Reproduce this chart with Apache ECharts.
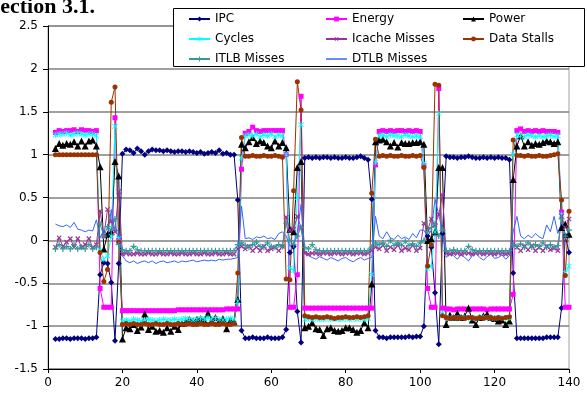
<!DOCTYPE html>
<html>
	<head>
		<meta charset="UTF-8">
		<title>Section 3.1</title>
		<style type="text/css">
			html,body{
				margin: 0;
				padding: 0;
				width: 100%;
				height: 100%;
				background: #fff;
			}
			#main{
				width: 587px;
				height: 397px;
			}
		</style>
	</head>
	<body>
		<div id="main"></div>
		<script src="https://cdn.jsdelivr.net/npm/echarts@6/dist/echarts.min.js"></script>
		<script>
			// x runs 2..140, one sample per unit
			var firstX = 2;
			var seriesNames = ['IPC', 'Energy', 'Power', 'Cycles', 'Icache Misses', 'Data Stalls', 'ITLB Misses', 'DTLB Misses'];
			var xTicks = [0, 20, 40, 60, 80, 100, 120, 140];
			var yTicks = [-1.5, -1, -0.5, 0, 0.5, 1, 1.5, 2, 2.5];

			var ipc = [
				-1.15,-1.15,-1.14,-1.14,-1.15,-1.14,-1.14,-1.14,-1.15,-1.14,-1.14,-1.13,
				-0.40,-0.26,-0.27,-0.49,-1.17,-0.27,
				1.01,1.06,1.05,1.02,1.07,1.04,1.00,1.04,1.06,1.05,1.05,1.04,1.05,1.04,1.03,1.04,1.04,1.03,1.04,1.03,1.02,1.03,1.01,1.02,1.03,1.02,1.05,1.01,1.02,1.00,1.00,
				0.47,-1.05,
				-1.14,-1.14,-1.13,-1.14,-1.14,-1.14,-1.13,-1.14,-1.14,-1.14,-1.13,
				-1.04,-0.14,-0.07,-0.83,-1.19,
				0.96,0.97,0.96,0.97,0.96,0.97,0.97,0.96,0.97,0.96,0.96,0.97,0.96,0.96,0.97,0.98,0.96,0.94,
				0.48,-1.05,
				-1.13,-1.13,-1.14,-1.13,-1.13,-1.13,-1.13,-1.13,-1.12,-1.13,-1.12,-1.12,
				-1.00,0.05,-0.08,-0.61,-1.21,0.08,
				0.98,0.97,0.97,0.96,0.97,0.97,0.98,0.97,0.96,0.96,0.97,0.96,0.97,0.96,0.97,0.96,0.96,0.94,
				-0.38,
				-1.14,-1.14,-1.14,-1.14,-1.14,-1.14,-1.14,-1.14,-1.13,-1.13,-1.13,-1.13,
				-0.79,0.05,-0.14
			];
			var energy = [
				1.26,1.28,1.27,1.28,1.28,1.29,1.27,1.29,1.28,1.28,1.27,1.28,
				-0.56,-0.78,-0.78,-0.78,1.43,0.00,
				-0.82,-0.82,-0.82,-0.82,-0.82,-0.82,-0.82,-0.82,-0.82,-0.82,-0.82,-0.82,-0.82,-0.82,-0.82,-0.81,-0.81,-0.81,-0.81,-0.81,-0.81,-0.81,-0.81,-0.81,-0.81,-0.81,-0.81,-0.81,-0.80,-0.80,-0.80,
				-0.80,0.83,
				1.25,1.27,1.32,1.28,1.27,1.28,1.28,1.28,1.28,1.28,1.28,
				1.00,-0.78,-0.78,-0.40,1.68,
				-0.79,-0.79,-0.79,-0.79,-0.79,-0.79,-0.79,-0.79,-0.79,-0.79,-0.79,-0.79,-0.79,-0.79,-0.79,-0.79,-0.79,-0.79,
				-0.79,0.88,
				1.27,1.28,1.27,1.28,1.27,1.28,1.28,1.27,1.28,1.27,1.28,1.27,
				0.87,-0.56,-0.78,-0.78,1.77,-0.79,
				-0.80,-0.80,-0.81,-0.80,-0.80,-0.80,-0.81,-0.80,-0.80,-0.80,-0.80,-0.81,-0.80,-0.80,-0.80,-0.80,-0.80,-0.80,
				-0.63,
				1.28,1.30,1.27,1.28,1.27,1.28,1.27,1.28,1.27,1.27,1.27,1.26,
				0.33,-0.78,-0.78
			];
			var power = [
				1.07,1.13,1.11,1.13,1.12,1.15,1.10,1.16,1.10,1.16,1.17,1.10,
				0.86,-0.10,0.07,0.10,0.92,0.75,
				-1.15,-1.02,-1.03,-0.98,-1.05,-1.01,-0.86,-1.04,-1.00,-1.06,-1.05,-1.07,-1.02,-1.06,-1.00,-1.04,-0.97,-0.95,-0.92,-0.94,-0.92,-0.91,-0.93,-0.85,-0.93,-0.90,-0.94,-0.91,-1.03,-0.93,-0.95,
				-0.69,1.12,
				1.08,1.15,1.20,1.13,1.16,1.14,1.10,1.08,1.16,1.10,1.14,
				1.08,0.13,0.10,0.85,0.92,
				-1.02,-1.00,-0.96,-1.03,-1.04,-1.11,-1.03,-1.02,-1.05,-1.06,-1.05,-1.02,-1.02,-1.04,-1.07,-1.05,-0.96,-1.02,
				-0.51,1.15,
				1.17,1.18,1.15,1.10,1.14,1.09,1.14,1.13,1.13,1.14,1.14,1.15,
				1.12,0.00,0.02,0.10,0.85,0.85,
				-0.98,-0.87,-0.90,-0.85,-0.90,-0.88,-0.79,-0.93,-0.98,-0.90,-0.88,-0.86,-0.90,-0.91,-0.94,-0.93,-0.98,-0.94,
				0.71,
				1.10,1.22,1.10,1.15,1.11,1.13,1.12,1.14,1.16,1.15,1.13,1.15,
				0.15,0.19,0.07
			];
			var cycles = [
				1.23,1.24,1.24,1.25,1.23,1.24,1.25,1.24,1.23,1.24,1.24,1.22,
				-0.12,-0.22,-0.18,0.05,1.33,0.02,
				-0.94,-0.93,-0.94,-0.92,-0.93,-0.94,-0.93,-0.92,-0.93,-0.94,-0.93,-0.92,-0.93,-0.93,-0.92,-0.93,-0.92,-0.91,-0.92,-0.93,-0.92,-0.91,-0.92,-0.90,-0.92,-0.91,-0.92,-0.93,-0.92,-0.91,-0.92,
				-0.71,0.96,
				1.22,1.23,1.22,1.24,1.21,1.23,1.22,1.24,1.21,1.23,1.22,
				1.00,-0.32,-0.35,0.50,1.35,
				-0.92,-0.91,-0.92,-0.91,-0.92,-0.92,-0.91,-0.92,-0.91,-0.92,-0.92,-0.91,-0.92,-0.91,-0.92,-0.91,-0.92,-0.91,
				-0.40,0.91,
				1.22,1.23,1.21,1.23,1.22,1.22,1.21,1.23,1.22,1.21,1.22,1.21,
				0.90,-0.33,-0.30,0.10,1.48,-0.85,
				-0.90,-0.91,-0.90,-0.91,-0.90,-0.90,-0.91,-0.90,-0.91,-0.90,-0.90,-0.91,-0.90,-0.91,-0.90,-0.90,-0.91,-0.90,
				1.00,
				1.23,1.22,1.21,1.23,1.22,1.21,1.22,1.21,1.22,1.23,1.21,1.22,
				0.30,-0.38,-0.30
			];
			var icache = [
				-0.08,0.03,-0.07,-0.02,0.02,-0.08,0.02,-0.08,-0.05,0.02,-0.08,-0.05,
				0.34,0.05,0.36,0.22,0.10,0.57,
				-0.16,-0.15,-0.16,-0.16,-0.15,-0.16,-0.16,-0.15,-0.16,-0.16,-0.15,-0.16,-0.16,-0.15,-0.16,-0.16,-0.15,-0.16,-0.16,-0.15,-0.16,-0.16,-0.15,-0.16,-0.16,-0.15,-0.16,-0.16,-0.15,-0.16,-0.16,
				-0.10,-0.07,
				-0.10,-0.07,-0.12,-0.08,-0.12,-0.07,-0.12,-0.10,-0.08,-0.12,-0.07,
				0.27,0.12,0.13,0.28,0.15,
				-0.15,-0.16,-0.15,-0.15,-0.16,-0.15,-0.15,-0.16,-0.15,-0.15,-0.16,-0.15,-0.15,-0.16,-0.15,-0.15,-0.16,-0.15,
				-0.12,-0.08,
				-0.10,-0.06,-0.12,-0.08,-0.11,-0.06,-0.12,-0.09,-0.11,-0.06,-0.12,-0.09,
				0.20,0.12,0.25,0.18,0.30,0.53,
				-0.15,-0.16,-0.15,-0.15,-0.16,-0.15,-0.15,-0.16,-0.15,-0.15,-0.16,-0.15,-0.15,-0.16,-0.15,-0.15,-0.16,-0.15,
				-0.05,
				-0.08,-0.12,-0.07,-0.11,-0.06,-0.12,-0.08,-0.12,-0.07,-0.11,-0.09,-0.12,
				0.28,0.15,0.25
			];
			var stalls = [
				1.00,1.00,1.00,1.00,1.00,1.00,1.00,1.00,1.00,1.00,1.00,1.00,
				-0.14,-0.48,-0.34,1.61,1.79,-0.02,
				-0.98,-0.97,-0.98,-0.97,-0.98,-0.98,-0.97,-0.98,-0.98,-0.97,-0.98,-0.98,-0.97,-0.98,-0.98,-0.97,-0.98,-0.98,-0.97,-0.98,-0.98,-0.97,-0.98,-0.98,-0.97,-0.98,-0.98,-0.97,-0.98,-0.98,-0.97,
				-0.38,1.20,
				0.98,0.98,0.99,0.98,0.98,0.99,0.98,0.98,0.99,0.98,0.97,
				-0.45,-0.46,0.58,1.85,1.52,
				-0.88,-0.89,-0.90,-0.89,-0.90,-0.90,-0.89,-0.90,-0.91,-0.90,-0.90,-0.89,-0.90,-0.90,-0.89,-0.90,-0.89,-0.88,
				0.55,1.18,
				0.98,0.99,0.98,0.99,0.98,0.98,0.99,0.98,0.98,0.99,0.98,0.99,
				0.85,-0.30,-0.05,1.82,1.81,-0.88,
				-0.90,-0.91,-0.90,-0.91,-0.90,-0.91,-0.90,-0.90,-0.91,-0.90,-0.91,-0.90,-0.90,-0.91,-0.90,-0.91,-0.90,-0.89,
				1.17,
				0.99,0.99,0.98,0.99,0.98,0.98,0.99,0.98,0.98,0.99,1.00,1.01,
				0.47,-0.41,0.34
			];
			var itlb = [
				-0.10,-0.05,-0.10,-0.07,-0.10,-0.05,-0.10,-0.08,-0.10,-0.05,-0.10,-0.08,
				0.19,0.05,0.16,0.12,0.25,-0.05,
				-0.11,-0.12,-0.12,-0.07,-0.11,-0.12,-0.12,-0.12,-0.12,-0.12,-0.12,-0.12,-0.12,-0.12,-0.12,-0.12,-0.12,-0.12,-0.12,-0.12,-0.12,-0.12,-0.12,-0.12,-0.12,-0.12,-0.12,-0.12,-0.12,-0.12,-0.12,
				-0.05,-0.03,
				-0.06,-0.08,-0.05,-0.02,-0.07,-0.08,-0.03,-0.07,-0.08,-0.05,-0.07,
				0.20,0.00,-0.05,0.05,0.15,
				-0.08,-0.10,-0.05,-0.11,-0.12,-0.12,-0.12,-0.12,-0.12,-0.12,-0.12,-0.12,-0.12,-0.12,-0.12,-0.12,-0.12,-0.12,
				-0.08,-0.03,
				-0.05,-0.03,-0.07,0.00,-0.06,-0.03,-0.06,-0.01,-0.06,-0.04,-0.07,-0.03,
				0.00,0.10,0.15,0.19,0.05,0.12,
				-0.12,-0.12,-0.11,-0.12,-0.12,-0.12,-0.07,-0.11,-0.12,-0.12,-0.12,-0.12,-0.12,-0.12,-0.12,-0.12,-0.12,-0.12,
				-0.05,
				-0.07,-0.04,-0.08,-0.03,-0.08,-0.05,-0.07,-0.03,-0.08,-0.05,-0.08,-0.06,
				0.25,0.05,0.12
			];
			var dtlb = [
				0.19,0.17,0.16,0.18,0.15,0.21,0.13,0.12,0.10,0.12,0.11,0.24,
				0.03,0.12,0.05,0.36,0.10,0.12,
				-0.18,-0.24,-0.26,-0.24,-0.27,-0.25,-0.24,-0.26,-0.24,-0.27,-0.25,-0.24,-0.26,-0.25,-0.24,-0.26,-0.24,-0.25,-0.24,-0.23,-0.25,-0.24,-0.23,-0.24,-0.23,-0.24,-0.22,-0.23,-0.22,-0.22,-0.21,
				-0.20,0.40,
				0.02,0.03,0.01,0.04,0.03,0.05,0.02,0.03,0.01,0.08,0.10,
				0.05,-0.07,-0.03,0.10,0.42,
				-0.12,-0.18,-0.20,-0.22,-0.19,-0.21,-0.23,-0.20,-0.22,-0.24,-0.21,-0.20,-0.23,-0.25,-0.22,-0.20,-0.23,-0.21,
				-0.20,0.28,
				0.05,0.02,0.10,0.03,0.01,0.06,0.02,0.04,0.01,0.08,0.03,0.12,
				0.12,0.05,0.12,0.48,0.30,0.10,
				-0.20,-0.15,-0.18,-0.22,-0.17,-0.20,-0.24,-0.18,-0.15,-0.20,-0.23,-0.19,-0.16,-0.21,-0.20,-0.17,-0.22,-0.18,
				0.10,
				0.28,0.05,0.02,0.06,0.03,0.08,0.04,0.02,0.18,0.10,0.28,0.08,
				0.20,0.08,0.02
			];

			var allData = [ipc, energy, power, cycles, icache, stalls, itlb, dtlb];
			var lens = allData.map(function(a){ return a.length; });
			if (lens.some(function(n){ return n !== 139; })) {
				throw new Error('bad lengths ' + lens.join(','));
			}

			function pairs(arr){
				return arr.map(function(v, i){ return [firstX + i, v]; });
			}

			var plusPath = 'path://M4,0H6V4H10V6H6V10H4V6H0V4H4Z';
			var starPath = 'path://M4.4,0H5.6V10H4.4Z M0.6,1.4L1.4,0.6L9.4,8.6L8.6,9.4Z M8.6,0.6L9.4,1.4L1.4,9.4L0.6,8.6Z';
			var dashPath = 'path://M0,0H14V1H0Z';

			var styles = [
				{color: '#000080', symbol: 'diamond', size: 6},
				{color: '#FF00FF', symbol: 'rect', size: 5},
				{color: '#000000', symbol: 'triangle', size: 7},
				{color: '#00FFFF', symbol: starPath, size: 6},
				{color: '#993399', symbol: plusPath, size: 6, rotate: 45},
				{color: '#993300', symbol: 'circle', size: 5},
				{color: '#339999', symbol: plusPath, size: 6},
				{color: '#3366FF', symbol: 'none', size: 0}
			];

			var series = seriesNames.map(function(name, k){
				var s = styles[k];
				return {
					name: name,
					type: 'line',
					data: pairs(allData[k]),
					symbol: s.symbol,
					symbolSize: s.size,
					symbolRotate: s.rotate || 0,
					showSymbol: s.symbol !== 'none',
					lineStyle: {color: s.color, width: 1},
					itemStyle: {color: s.color},
					emphasis: {disabled: true},
					animation: false
				};
			});

			var font = 'DejaVu Sans';
			var legendBase = {
				orient: 'vertical',
				top: 13,
				padding: 0,
				itemWidth: 21,
				itemHeight: 6,
				itemGap: 8,
				selectedMode: false,
				z: 5,
				textStyle: {fontFamily: font, fontSize: 12, color: '#000'}
			};
			function legendAt(left, names){
				var o = {};
				for (var key in legendBase) o[key] = legendBase[key];
				o.left = left;
				o.data = names.map(function(n){
					return n === 'DTLB Misses' ? {name: n, icon: dashPath} : n;
				});
				return o;
			}

			var myChart = echarts.init(document.getElementById('main'), null, {renderer: 'canvas'});
			myChart.setOption({
				backgroundColor: '#fff',
				animation: false,
				grid: {
					left: 48, right: 18, top: 26, bottom: 28,
					show: true, borderColor: '#a0a0a0', borderWidth: 1
				},
				legend: [
					legendAt(188, [seriesNames[0], seriesNames[3], seriesNames[6]]),
					legendAt(325, [seriesNames[1], seriesNames[4], seriesNames[7]]),
					legendAt(462, [seriesNames[2], seriesNames[5]])
				],
				graphic: [
					{
						type: 'rect', z: 4,
						shape: {x: 173.5, y: 8.5, width: 411, height: 58},
						style: {fill: '#fff', stroke: '#000', lineWidth: 1}
					},
					{
						type: 'text', z: 5,
						style: {
							text: 'Section 3.1.', x: -12, y: 18,
							verticalAlign: 'bottom',
							font: 'bold 22px "Liberation Serif"', fill: '#000'
						}
					}
				],
				xAxis: {
					type: 'value',
					min: xTicks[0], max: xTicks[xTicks.length - 1], interval: 20,
					axisLine: {show: true, onZero: false, lineStyle: {color: '#000', width: 1}},
					axisTick: {show: true, length: 4, lineStyle: {color: '#000'}},
					axisLabel: {fontFamily: font, fontSize: 12, color: '#000', margin: 8},
					splitLine: {show: false}
				},
				yAxis: {
					type: 'value',
					min: yTicks[0], max: yTicks[yTicks.length - 1], interval: 0.5,
					axisLine: {show: true, onZero: false, lineStyle: {color: '#000', width: 1}},
					axisTick: {show: true, length: 5, lineStyle: {color: '#000'}},
					axisLabel: {fontFamily: font, fontSize: 12, color: '#000', margin: 10},
					splitLine: {show: true, lineStyle: {color: '#808080', width: 1.5}}
				},
				series: series
			});
		</script>
	</body>
</html>
